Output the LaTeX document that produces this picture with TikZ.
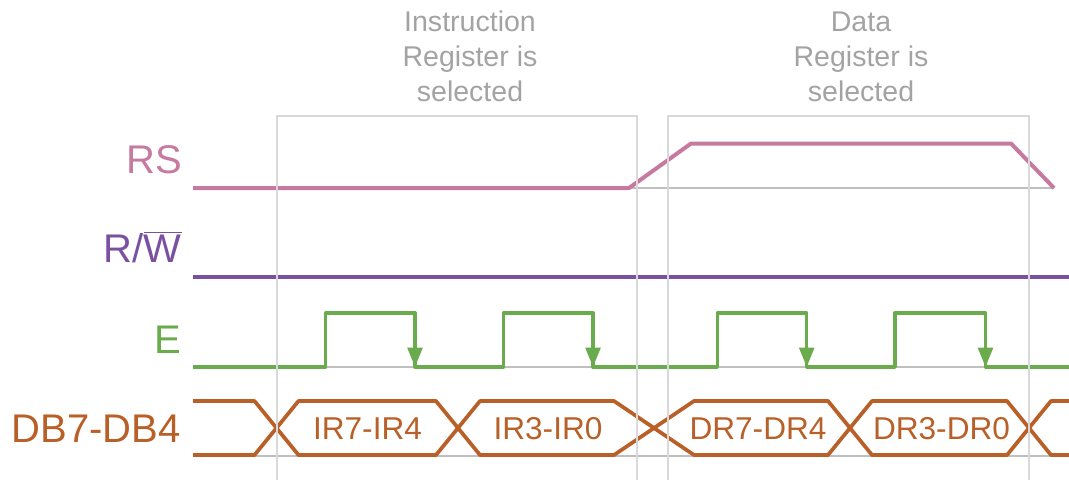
\documentclass[tikz,border=0pt]{standalone}
\usepackage{fontspec}
\setmainfont{Liberation Sans}
\usetikzlibrary{arrows.meta}
\definecolor{rspink}{HTML}{C77AA0}
\definecolor{rwpurple}{HTML}{7A50A0}
\definecolor{egreen}{HTML}{6AAB4E}
\definecolor{busorange}{HTML}{B86028}
\definecolor{headgrey}{HTML}{A3A3A3}
\definecolor{boxgrey}{HTML}{D9D9D9}
\definecolor{basegrey}{HTML}{BFBFBF}
\tikzset{
  siglabel/.style={anchor=base east, inner sep=0pt, font=\fontsize{30}{34}\selectfont},
  headtext/.style={anchor=base, inner sep=0pt, text=headgrey, font=\fontsize{21.4}{26}\selectfont},
  bustext/.style={anchor=base, inner sep=0pt, text=busorange, font=\fontsize{23.7}{28}\selectfont},
  regionbox/.style={draw=boxgrey, line width=1.5pt},
  baseline/.style={draw=basegrey, line width=1.5pt},
  rswave/.style={draw=rspink, line width=3pt, line join=round},
  rwwave/.style={draw=rwpurple, line width=3pt},
  ewave/.style={draw=egreen, line width=2.5pt, line join=round},
  earrow/.style={draw=egreen, line width=2.5pt, -{Triangle[width=11pt,length=14.5pt]}},
  buswave/.style={draw=busorange, line width=2.8pt, line join=round},
}
\begin{document}
\begin{tikzpicture}[x=0.75pt, y=-0.75pt]
\useasboundingbox (0,0) rectangle (1069,480);

% header texts
\node[headtext] (h1a) at (470,31.5) {Instruction};
\node[headtext] (h1b) at (470,66.5) {Register is};
\node[headtext] (h1c) at (470,101.5) {selected};
\node[headtext] (h2a) at (861,31.5) {Data};
\node[headtext] (h2b) at (861,66.5) {Register is};
\node[headtext] (h2c) at (861,101.5) {selected};

% signal labels
\node[siglabel, text=rspink] (lrs) at (182,173) {RS};
\node[siglabel, text=rwpurple] (lrw) at (182,262) {R/\(\overline{\hbox{W}}\)};
\node[siglabel, text=egreen] (le) at (181,353) {E};
\node[siglabel, text=busorange] (ldb) at (181,442) {DB7-DB4};

% grey baselines
\draw[baseline] (193,188) -- (1054,188);
\draw[baseline] (193,367) -- (1069,367);
\draw[baseline] (193,455.5) -- (1069,455.5);

% RS
\draw[rswave] (193,188) -- (629,188) -- (691,143.5) -- (1011,143.5) -- (1054,188);
% R/W
\draw[rwwave] (193,277) -- (1069,277);
% E
\draw[ewave] (193,367) -- (325.8,367) -- (325.8,313) -- (415,313) -- (415,367)
  -- (503.8,367) -- (503.8,313) -- (593,313) -- (593,367)
  -- (717.3,367) -- (717.3,313) -- (806.7,313) -- (806.7,367)
  -- (895,367) -- (895,313) -- (985.5,313) -- (985.5,367) -- (1069,367);
\draw[earrow] (415,330) -- (415,367);
\draw[earrow] (593,330) -- (593,367);
\draw[earrow] (806.7,330) -- (806.7,367);
\draw[earrow] (985.5,330) -- (985.5,367);

% data bus
\draw[buswave] (193,401) -- (254.5,401) -- (298.5,455) -- (436,455) -- (480,401)
  -- (614,401) -- (694,455) -- (828,455) -- (872,401) -- (1007,401) -- (1051,455) -- (1069,455);
\draw[buswave] (193,455) -- (254.5,455) -- (298.5,401) -- (436,401) -- (480,455)
  -- (614,455) -- (694,401) -- (828,401) -- (872,455) -- (1007,455) -- (1051,401) -- (1069,401);

\node[bustext] (b1) at (367.5,439.3) {IR7-IR4};
\node[bustext] (b2) at (548,439.3) {IR3-IR0};
\node[bustext] (b3) at (758,439.3) {DR7-DR4};
\node[bustext] (b4) at (941.5,439.3) {DR3-DR0};

% region boxes
\draw[regionbox] (277,480) -- (277,116) -- (637,116) -- (637,480);
\draw[regionbox] (668,480) -- (668,116) -- (1029,116) -- (1029,480);
\end{tikzpicture}
\end{document}
